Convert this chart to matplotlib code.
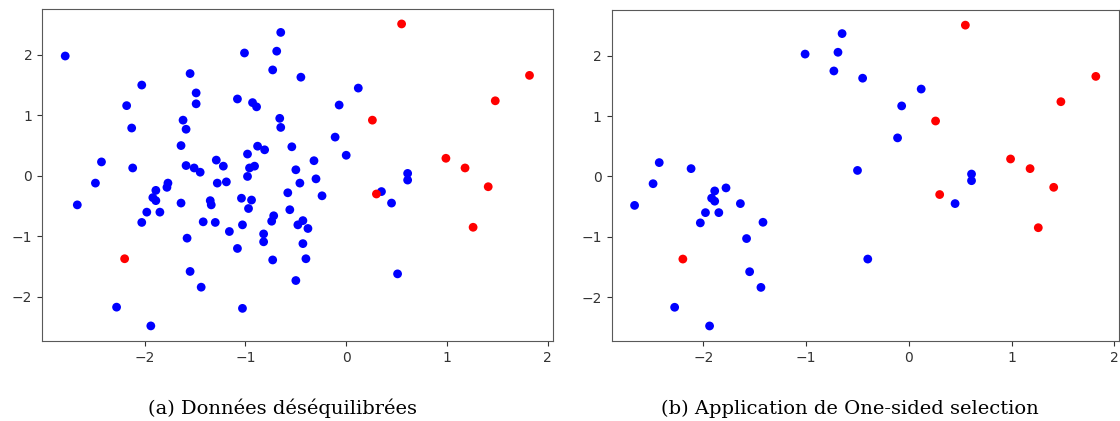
import matplotlib
matplotlib.use('Agg')
import matplotlib.pyplot as plt

# majority class (blue) points
blue_x = [-2.79, -2.03, -2.18, -2.13, -2.43, -2.12, -2.49, -1.55, -1.49, -1.49,
          -1.62, -1.59, -1.64, -1.59, -1.51, -1.45, -1.29, -1.22, -1.28, -1.19,
          -1.08, -1.01, -0.98, -0.98, -0.96, -0.91, -0.93, -0.89, -0.88, -0.81,
          -0.73, -0.69, -0.65, -0.66, -0.65, -0.54, -0.50, -0.58, -0.45, -0.46,
          0.12, -0.07, -0.11, 0.00, -0.32, -0.30, -0.24, 0.35, 0.45, 0.61,
          0.61, 0.51, -2.67, -2.28, -1.94, -2.03, -1.98, -1.85, -1.89, -1.92,
          -1.89, -1.77, -1.78, -1.64, -1.58, -1.55, -1.44, -1.42, -1.35, -1.34,
          -1.30, -1.16, -1.08, -1.04, -1.03, -0.97, -0.94, -1.03, -0.82, -0.82,
          -0.73, -0.74, -0.72, -0.56, -0.50, -0.48, -0.43, -0.40, -0.43, -0.38]
blue_y = [1.98, 1.50, 1.16, 0.79, 0.23, 0.13, -0.12, 1.69, 1.37, 1.19,
          0.92, 0.77, 0.50, 0.17, 0.13, 0.06, 0.26, 0.16, -0.12, -0.10,
          1.27, 2.03, 0.36, -0.01, 0.13, 0.16, 1.21, 1.14, 0.49, 0.43,
          1.75, 2.06, 2.37, 0.95, 0.80, 0.48, 0.10, -0.28, 1.63, -0.12,
          1.45, 1.17, 0.64, 0.34, 0.25, -0.05, -0.33, -0.26, -0.45, 0.04,
          -0.07, -1.62, -0.48, -2.17, -2.48, -0.77, -0.60, -0.60, -0.24, -0.36,
          -0.41, -0.12, -0.19, -0.45, -1.03, -1.58, -1.84, -0.76, -0.41, -0.48,
          -0.77, -0.92, -1.20, -0.37, -0.81, -0.54, -0.40, -2.19, -0.96, -1.09,
          -1.39, -0.75, -0.66, -0.56, -1.73, -0.81, -1.12, -1.37, -0.74, -0.87]
# 1 = blue point still present after One-sided selection
kept_oss = [0, 0, 0, 0, 1, 1, 1, 0, 0, 0,
            0, 0, 0, 0, 0, 0, 0, 0, 0, 0,
            0, 1, 0, 0, 0, 0, 0, 0, 0, 0,
            1, 1, 1, 0, 0, 0, 1, 0, 1, 0,
            1, 1, 1, 0, 0, 0, 0, 0, 1, 1,
            1, 0, 1, 1, 1, 1, 1, 1, 1, 1,
            1, 0, 1, 1, 1, 1, 1, 1, 0, 0,
            0, 0, 0, 0, 0, 0, 0, 0, 0, 0,
            0, 0, 0, 0, 0, 0, 0, 1, 0, 0]

# minority class (red) points, unchanged by the selection
red_x = [0.55, 1.82, 1.48, 0.26, 0.99, 1.18, 1.41, 0.30, 1.26, -2.20]
red_y = [2.51, 1.66, 1.24, 0.92, 0.29, 0.13, -0.18, -0.30, -0.85, -1.37]

captions = ['(a) Données déséquilibrées', '(b) Application de One-sided selection']

sel_x = [x for x, k in zip(blue_x, kept_oss) if k]
sel_y = [y for y, k in zip(blue_y, kept_oss) if k]

fig = plt.figure(figsize=(11.2, 4.21), dpi=100)
ax_a = fig.add_axes([0.0375, 0.190, 0.456, 0.789])
ax_b = fig.add_axes([0.546, 0.190, 0.453, 0.786])

# captions sit a little left of the axes centres, as in the source document
cap_x = [0.252, 0.759]

panels = [(ax_a, blue_x, blue_y), (ax_b, sel_x, sel_y)]
for (ax, bx, by), cap, cx in zip(panels, captions, cap_x):
	ax.scatter(bx + red_x, by + red_y, c=['blue'] * len(bx) + ['red'] * len(red_x), s=40, linewidths=0)
	ax.set_xticks([-2, -1, 0, 1, 2])
	ax.set_yticks([-2, -1, 0, 1, 2])
	ax.tick_params(labelsize=10, colors='0.2', length=3.5)
	for sp in ax.spines.values():
		sp.set_color('0.35')
	fig.text(cx, 0.008, cap, ha='center', va='bottom',
			 fontsize=14, family='DejaVu Serif', color='black')

fig.savefig('out.png', dpi=100)
